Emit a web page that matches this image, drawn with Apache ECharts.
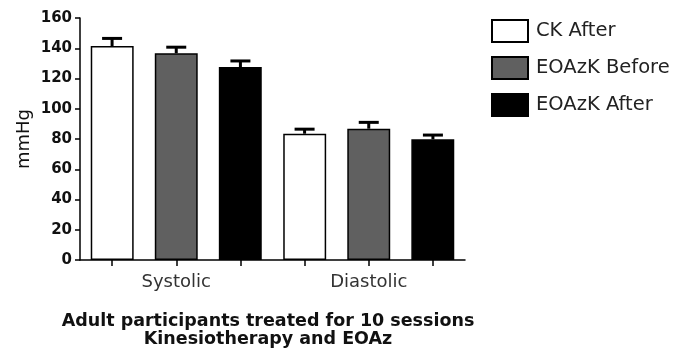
<!DOCTYPE html>
<html>
<head>
<meta charset="utf-8">
<script src="https://cdn.jsdelivr.net/npm/echarts@6/dist/echarts.min.js"></script>
<style>
html,body{margin:0;padding:0;background:#fff;}
#chart{width:687px;height:353px;}
</style>
</head>
<body>
<div id="chart"></div>
<script>
const categories = ['Systolic', 'Diastolic'];
const seriesNames = ['CK After', 'EOAzK Before', 'EOAzK After'];
const ckAfter = [141.5, 83.5];
const eoazkBefore = [136.7, 86.8];
const eoazkAfter = [127.6, 79.8];
const ckAfterErr = [5.0, 3.0];
const eoazkBeforeErr = [4.0, 4.2];
const eoazkAfterErr = [4.0, 2.8];
const yTicks = [0, 20, 40, 60, 80, 100, 120, 140, 160];
const titleLines = ['Adult participants treated for 10 sessions', 'Kinesiotherapy and EOAz'];

const means = [ckAfter, eoazkBefore, eoazkAfter];
const errs = [ckAfterErr, eoazkBeforeErr, eoazkAfterErr];
const fills = ['#ffffff', '#606060', '#000000'];

const chart = echarts.init(document.getElementById('chart'));
const font = 'DejaVu Sans';

const barSeries = seriesNames.map((name, k) => ({
  name: name,
  type: 'bar',
  xAxisIndex: 0,
  data: means[k],
  barWidth: '22.3%',
  barGap: '49.2%',
  itemStyle: { color: fills[k], borderColor: '#000', borderWidth: 1.5 },
  emphasis: { disabled: true },
  z: 2
}));

const errSeries = seriesNames.map((name, k) => ({
  name: name + ' err',
  type: 'custom',
  xAxisIndex: 0,
  data: categories.map((c, i) => [i, means[k][i], errs[k][i]]),
  encode: { x: 0, y: 1 },
  z: 3,
  renderItem: function (params, api) {
    const i = api.value(0);
    const m = api.value(1);
    const e = api.value(2);
    const band = api.size([1, 0])[0];
    const off = (k - 1) * band / 3;
    const base = api.coord([i, m]);
    const top = api.coord([i, m + e]);
    const x = base[0] + off;
    const half = 10;
    return {
      type: 'group',
      children: [
        { type: 'line', shape: { x1: x, y1: base[1], x2: x, y2: top[1] }, style: { stroke: '#000', lineWidth: 3 } },
        { type: 'line', shape: { x1: x - half, y1: top[1], x2: x + half, y2: top[1] }, style: { stroke: '#000', lineWidth: 3 } }
      ]
    };
  }
}));

chart.setOption({
  animation: false,
  backgroundColor: '#fff',
  title: {
    text: titleLines.join('\n'),
    left: 263,
    top: 307.5,
    textAlign: 'center',
    textStyle: { fontFamily: font, fontWeight: 'bold', fontSize: 17.5, lineHeight: 18, color: '#111' }
  },
  legend: {
    data: seriesNames,
    orient: 'vertical',
    left: 491,
    top: 19,
    padding: 0,
    itemWidth: 36,
    itemHeight: 22,
    itemGap: 13,
    icon: 'rect',
    selectedMode: false,
    textStyle: { fontFamily: font, fontSize: 19.5, lineHeight: 22, color: '#222', padding: [0, 0, 0, 3] }
  },
  grid: { left: 80, right: 222, top: 18, bottom: 93, containLabel: false },
  xAxis: [
    {
      type: 'category',
      data: categories,
      axisLine: { lineStyle: { color: '#000', width: 1.5 } },
      axisTick: { show: false },
      axisLabel: { fontFamily: font, fontSize: 18, color: '#333', margin: 13 }
    },
    {
      type: 'category',
      position: 'bottom',
      data: ['', '', '', '', '', ''],
      axisLine: { show: false },
      axisTick: { show: true, alignWithLabel: true, length: 6, lineStyle: { color: '#000', width: 1.5 } },
      axisLabel: { show: false }
    }
  ],
  yAxis: {
    type: 'value',
    min: yTicks[0],
    max: yTicks[yTicks.length - 1],
    interval: 20,
    name: 'mmHg',
    nameLocation: 'middle',
    nameGap: 47,
    nameMoveOverlap: false,
    nameRotate: 90,
    nameTextStyle: { fontFamily: font, fontSize: 18, color: '#111' },
    splitLine: { show: false },
    axisLine: { show: true, lineStyle: { color: '#000', width: 1.5 } },
    axisTick: { show: true, length: 5, lineStyle: { color: '#000', width: 1.5 } },
    axisLabel: { fontFamily: font, fontSize: 15, fontWeight: 'bold', color: '#111', margin: 8 }
  },
  series: barSeries.concat(errSeries)
});
</script>
</body>
</html>
